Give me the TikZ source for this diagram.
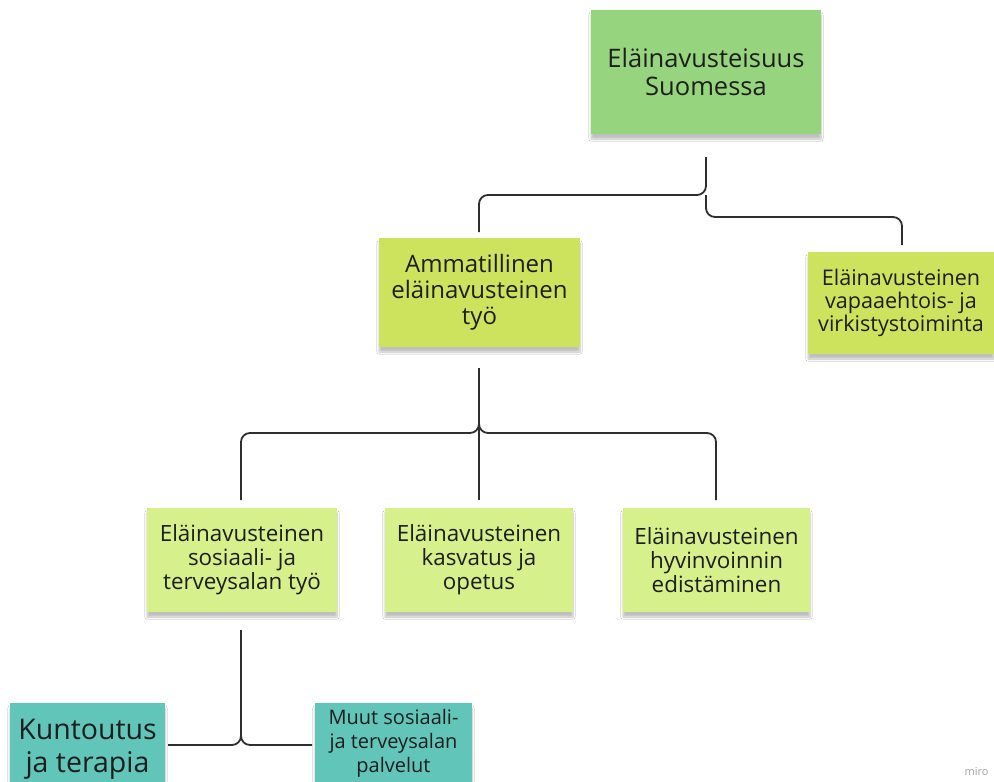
\documentclass[tikz,border=0pt]{standalone}
\usepackage{fontspec}
\setmainfont{Open Sans}
\usetikzlibrary{shadows.blur}
\definecolor{cTop}{HTML}{96D57D}
\definecolor{cMid}{HTML}{CEE35D}
\definecolor{cLow}{HTML}{D6F08C}
\definecolor{cTeal}{HTML}{62C5BA}
\definecolor{cLine}{HTML}{2E2E2E}
\definecolor{cText}{HTML}{1E1E1E}
\tikzset{
  note/.style={inner sep=0pt, align=center, text=cText,
    blur shadow={shadow xshift=0pt, shadow yshift=-5pt, shadow opacity=25, shadow blur steps=6}},
  conn/.style={draw=cLine, line width=1.8pt, rounded corners=9pt},
}
\begin{document}
\begin{tikzpicture}[x=1pt,y=-1pt]
\useasboundingbox (0,0) rectangle (994,782);
\fill[white] (0,0) rectangle (994,782);
% nodes
\node[note, fill=cTop, minimum width=230pt, minimum height=124pt,
  font=\fontsize{25.5}{28.5}\selectfont] (top) at (706,72) {Eläinavusteisuus\\Suomessa};
\node[note, fill=cMid, minimum width=201pt, minimum height=109pt,
  font=\fontsize{24}{26}\selectfont] (amm) at (479.5,292.5) {Ammatillinen\\eläinavusteinen\\työ};
\node[note, fill=cMid, minimum width=186pt, minimum height=102pt,
  font=\fontsize{21.6}{23}\selectfont] (vap) at (901,303) {Eläinavusteinen\\vapaaehtois- ja\\virkistystoiminta};
\node[note, fill=cLow, minimum width=190pt, minimum height=104pt,
  font=\fontsize{22.4}{24}\selectfont] (sos) at (242,560) {Eläinavusteinen\\sosiaali- ja\\terveysalan työ};
\node[note, fill=cLow, minimum width=188pt, minimum height=104pt,
  font=\fontsize{22.4}{24}\selectfont] (kas) at (479,560) {Eläinavusteinen\\kasvatus ja\\opetus};
\node[note, fill=cLow, minimum width=187pt, minimum height=104pt,
  font=\fontsize{22.4}{24}\selectfont] (hyv) at (716.5,560) {Eläinavusteinen\\hyvinvoinnin\\edistäminen};
\node[note, fill=cTeal, minimum width=155pt, minimum height=93pt,
  font=\fontsize{28.5}{33}\selectfont] (kun) at (87.5,749.5) {Kuntoutus\\ja terapia};
\node[note, fill=cTeal, minimum width=157pt, minimum height=80pt,
  font=\fontsize{20}{24}\selectfont] (muu) at (393.5,743) {Muut sosiaali-\\ja terveysalan\\palvelut};
\node[text=gray!70, font=\fontsize{11}{13}\selectfont, anchor=east] (miro) at (992,772) {miro};
% connectors level 1
\coordinate (t0) at (706,157);
\coordinate (j1) at (706,195);
\coordinate (aL) at (479,195);
\coordinate (aE) at (479,232);
\coordinate (j2) at (706,217);
\coordinate (vR) at (902,217);
\coordinate (vE) at (902,245);
\draw[conn] (t0) -- (j1) -- (aL) -- (aE);
\draw[conn] (j1) -- (j2) -- (vR) -- (vE);
% connectors level 2
\coordinate (m0) at (479,368);
\coordinate (m1) at (479,433);
\coordinate (sL) at (241,433);
\coordinate (sE) at (241,500);
\coordinate (hR) at (716,433);
\coordinate (hE) at (716,500);
\coordinate (kE) at (479,500);
\draw[conn] (m0) -- (kE);
\draw[conn] ([yshift=5pt]m1) -- (m1) -- (sL) -- (sE);
\draw[conn] ([yshift=5pt]m1) -- (m1) -- (hR) -- (hE);
% connectors level 3
\coordinate (b0) at (241,630);
\coordinate (b1) at (241,745);
\coordinate (kL) at (168,745);
\coordinate (mR) at (312,745);
\draw[conn] (b0) -- ([yshift=8pt]b1);
\draw[conn] ([yshift=8pt]b1) -- (b1) -- (kL);
\draw[conn] ([yshift=8pt]b1) -- (b1) -- (mR);
\end{tikzpicture}
\end{document}
